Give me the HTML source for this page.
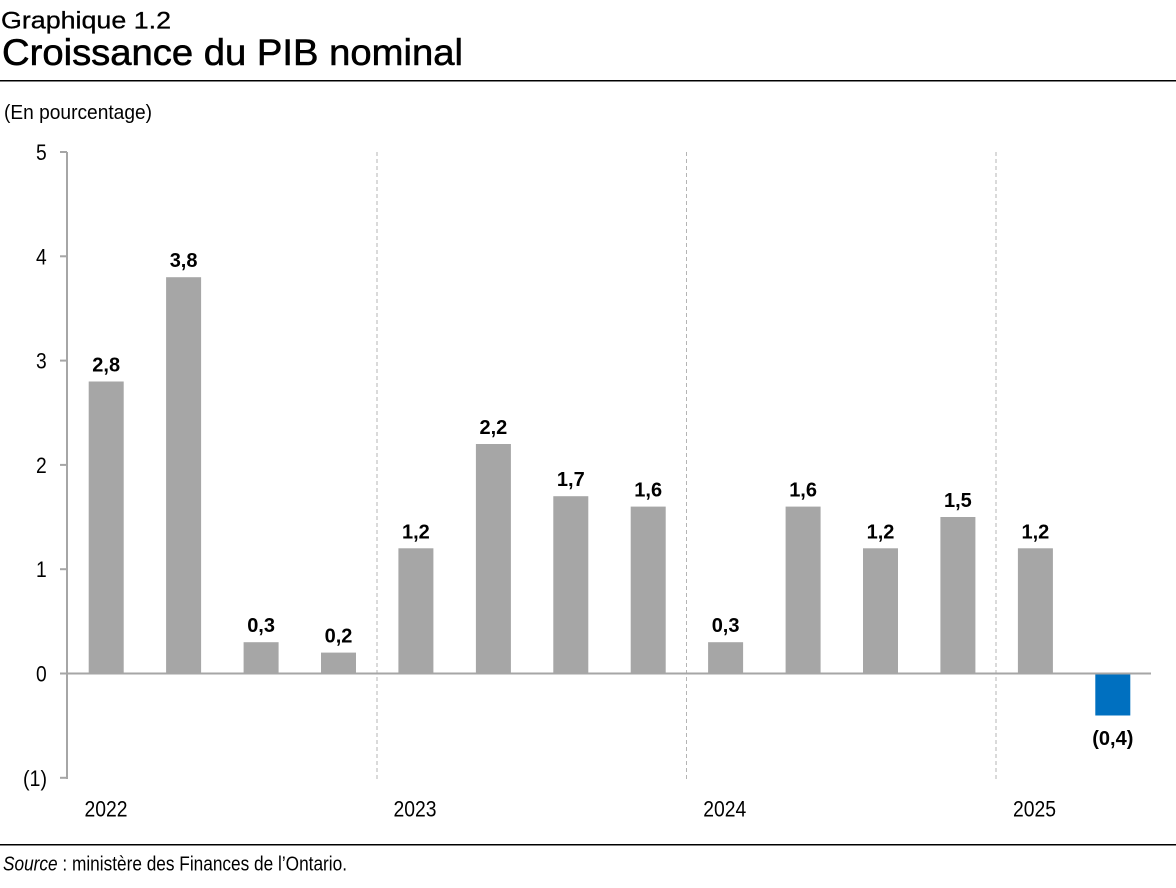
<!DOCTYPE html>
<html>
<head>
<meta charset="utf-8">
<style>
html,body{margin:0;padding:0;background:#fff;}
svg{display:block;}
text{font-family:"Liberation Sans",Arial,sans-serif;fill:#000;}
</style>
</head>
<body>
<svg width="1176" height="888" viewBox="0 0 1176 888" xmlns="http://www.w3.org/2000/svg">
  <!-- Titles -->
  <text x="1" y="28.5" font-size="24" textLength="170" lengthAdjust="spacingAndGlyphs" stroke="#000" stroke-width="0.3">Graphique 1.2</text>
  <text x="2" y="65" font-size="37.5" textLength="461" lengthAdjust="spacingAndGlyphs" stroke="#000" stroke-width="0.6">Croissance du PIB nominal</text>
  <rect x="0" y="80" width="1176" height="1.3" fill="#000" shape-rendering="crispEdges"/>
  <text x="4" y="119" font-size="20.5" textLength="148" lengthAdjust="spacingAndGlyphs">(En pourcentage)</text>

  <!-- Dashed year separators -->
  <g stroke="#b4b4b4" stroke-width="1" stroke-dasharray="4 3">
    <line x1="377" y1="152" x2="377" y2="779"/>
    <line x1="686.5" y1="152" x2="686.5" y2="779"/>
    <line x1="996" y1="152" x2="996" y2="779"/>
  </g>

  <!-- Bars -->
  <g fill="#a6a6a6">
    <rect x="88.7" y="381.5" width="35" height="292"/>
    <rect x="166.1" y="277.2" width="35" height="396.3"/>
    <rect x="243.6" y="642.2" width="35" height="31.3"/>
    <rect x="321.0" y="652.6" width="35" height="20.9"/>
    <rect x="398.4" y="548.3" width="35" height="125.2"/>
    <rect x="475.9" y="444.0" width="35" height="229.5"/>
    <rect x="553.3" y="496.2" width="35" height="177.3"/>
    <rect x="630.7" y="506.6" width="35" height="166.9"/>
    <rect x="708.1" y="642.2" width="35" height="31.3"/>
    <rect x="785.6" y="506.6" width="35" height="166.9"/>
    <rect x="863.0" y="548.3" width="35" height="125.2"/>
    <rect x="940.4" y="517.0" width="35" height="156.5"/>
    <rect x="1017.9" y="548.3" width="35" height="125.2"/>
  </g>
  <rect x="1095.3" y="673.5" width="35" height="42" fill="#0070c0"/>

  <!-- Axes -->
  <rect x="66" y="152" width="2" height="627" fill="#a6a6a6"/>
  <rect x="67" y="672.5" width="1084" height="2" fill="#a6a6a6"/>
  <g fill="#a6a6a6">
    <rect x="60" y="151" width="7" height="2"/>
    <rect x="60" y="255.3" width="7" height="2"/>
    <rect x="60" y="359.6" width="7" height="2"/>
    <rect x="60" y="463.9" width="7" height="2"/>
    <rect x="60" y="568.2" width="7" height="2"/>
    <rect x="60" y="672.5" width="7" height="2"/>
    <rect x="60" y="776.8" width="7" height="2"/>
  </g>

  <!-- Y tick labels -->
  <g font-size="22.5">
    <text x="36" y="160" textLength="10.7" lengthAdjust="spacingAndGlyphs">5</text>
    <text x="36" y="264.3" textLength="10.7" lengthAdjust="spacingAndGlyphs">4</text>
    <text x="36" y="368.6" textLength="10.7" lengthAdjust="spacingAndGlyphs">3</text>
    <text x="36" y="472.9" textLength="10.7" lengthAdjust="spacingAndGlyphs">2</text>
    <text x="36" y="577.2" textLength="10.7" lengthAdjust="spacingAndGlyphs">1</text>
    <text x="36" y="681.5" textLength="10.7" lengthAdjust="spacingAndGlyphs">0</text>
    <text x="23" y="785.8" textLength="24" lengthAdjust="spacingAndGlyphs">(1)</text>
  </g>

  <!-- Data labels -->
  <g font-size="20" font-weight="bold" text-anchor="middle">
    <text x="106.2" y="371.5">2,8</text>
    <text x="183.6" y="267.2">3,8</text>
    <text x="261.1" y="632.2">0,3</text>
    <text x="338.5" y="642.6">0,2</text>
    <text x="415.9" y="538.3">1,2</text>
    <text x="493.4" y="434.0">2,2</text>
    <text x="570.8" y="486.2">1,7</text>
    <text x="648.2" y="496.6">1,6</text>
    <text x="725.6" y="632.2">0,3</text>
    <text x="803.1" y="496.6">1,6</text>
    <text x="880.5" y="538.3">1,2</text>
    <text x="957.9" y="507.0">1,5</text>
    <text x="1035.4" y="538.3">1,2</text>
    <text x="1112.8" y="745">(0,4)</text>
  </g>

  <!-- Year labels -->
  <g font-size="22.5">
    <text x="84.5" y="816.7" textLength="43" lengthAdjust="spacingAndGlyphs">2022</text>
    <text x="393.5" y="816.7" textLength="43" lengthAdjust="spacingAndGlyphs">2023</text>
    <text x="703.3" y="816.7" textLength="43" lengthAdjust="spacingAndGlyphs">2024</text>
    <text x="1013" y="816.7" textLength="43" lengthAdjust="spacingAndGlyphs">2025</text>
  </g>

  <!-- Source -->
  <rect x="0" y="844" width="1176" height="1.3" fill="#000" shape-rendering="crispEdges"/>
  <text x="3" y="870.5" font-size="20.5" textLength="344" lengthAdjust="spacingAndGlyphs"><tspan font-style="italic">Source</tspan> : ministère des Finances de l’Ontario.</text>
</svg>
</body>
</html>
